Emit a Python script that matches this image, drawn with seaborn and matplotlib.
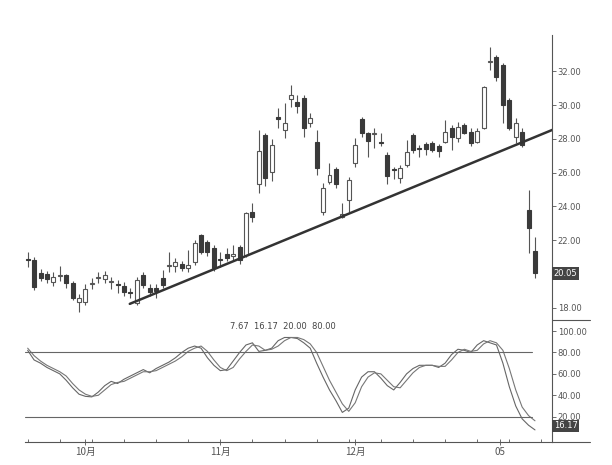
import numpy as np
import pandas as pd
import seaborn as sns
import matplotlib
matplotlib.use('Agg')
from matplotlib import pyplot as plt
from matplotlib.ticker import MultipleLocator

# daily candles
opens = [20.90, 20.84, 20.07, 19.98, 19.55, 19.90, 19.95, 19.48, 18.36, 18.36,
         19.42, 19.75, 19.72, 19.55, 19.40, 19.30, 18.92, 18.30, 19.95, 19.20,
         19.20, 19.78, 20.50, 20.50, 20.60, 20.35, 20.70, 22.30, 21.90, 21.55,
         20.90, 21.20, 21.10, 21.60, 21.15, 23.65, 25.30, 28.20, 26.05, 29.30,
         28.50, 30.35, 30.20, 30.40, 28.95, 27.80, 23.68, 25.45, 26.20, 23.35,
         24.40, 26.60, 29.20, 28.35, 28.30, 27.80, 27.05, 26.20, 25.70, 26.46,
         28.24, 27.45, 27.70, 27.75, 27.60, 27.80, 28.65, 28.06, 28.80, 28.40,
         27.80, 28.65, 32.56, 32.85, 32.38, 30.30, 28.10, 28.40, 23.80, 21.37]
highs = [21.31, 21.00, 20.30, 20.20, 20.10, 20.50, 20.00, 19.60, 18.80, 19.40,
         19.75, 20.10, 20.20, 19.80, 19.65, 19.55, 19.20, 19.80, 20.15, 19.40,
         19.40, 20.25, 21.30, 20.95, 20.75, 21.40, 22.00, 22.40, 22.00, 21.70,
         21.30, 21.55, 21.70, 21.75, 23.70, 24.20, 28.50, 28.35, 28.00, 29.85,
         30.10, 31.20, 30.60, 30.60, 29.50, 28.50, 25.40, 26.55, 26.35, 24.20,
         25.75, 28.05, 29.30, 28.40, 28.65, 28.35, 27.20, 26.35, 26.45, 27.94,
         28.35, 27.65, 27.82, 27.90, 27.70, 29.10, 28.80, 29.00, 28.95, 28.65,
         28.65, 31.15, 33.45, 32.95, 32.50, 30.40, 29.25, 28.65, 24.98, 22.20]
lows = [20.43, 19.06, 19.60, 19.50, 19.30, 19.60, 19.20, 18.45, 17.76, 18.20,
        19.10, 19.50, 19.50, 19.10, 18.90, 18.70, 18.60, 18.20, 19.20, 18.70,
        18.60, 19.20, 20.10, 20.15, 20.20, 20.15, 20.55, 21.20, 21.10, 20.20,
        20.40, 20.80, 20.85, 20.60, 21.00, 23.10, 24.80, 25.20, 25.50, 28.65,
        28.05, 29.90, 29.55, 28.10, 28.70, 25.85, 23.50, 25.30, 25.10, 23.30,
        23.70, 26.35, 28.10, 26.95, 27.45, 27.60, 25.30, 25.60, 25.40, 26.35,
        27.17, 26.95, 27.05, 27.20, 26.90, 27.75, 27.35, 27.80, 28.30, 27.60,
        27.75, 28.60, 32.10, 31.40, 28.95, 28.50, 27.76, 27.50, 21.25, 19.78]
closes = [20.85, 19.24, 19.78, 19.72, 19.83, 19.95, 19.48, 18.59, 18.59, 19.10,
          19.48, 19.80, 19.95, 19.60, 19.36, 18.95, 18.86, 19.66, 19.36, 18.95,
          19.00, 19.36, 20.55, 20.70, 20.35, 20.55, 21.85, 21.30, 21.30, 20.38,
          20.85, 20.95, 21.15, 20.84, 23.60, 23.35, 27.30, 25.70, 27.65, 29.20,
          28.95, 30.60, 29.95, 28.65, 29.22, 26.28, 25.10, 25.85, 25.35, 23.55,
          25.55, 27.65, 28.35, 27.88, 28.35, 27.78, 25.80, 26.15, 26.28, 27.20,
          27.35, 27.42, 27.42, 27.35, 27.30, 28.40, 28.10, 28.70, 28.36, 27.76,
          28.47, 31.08, 32.60, 31.67, 30.00, 28.65, 28.95, 27.65, 22.73, 20.05]

# stochastic %K / %D
stoch_k = [82, 73, 70, 66, 63, 60, 54, 47, 41, 39,
           38.5, 43, 49, 53, 51, 55, 58, 61, 64, 61,
           65, 68, 71, 75, 80, 84, 86, 84, 75, 68,
           63, 64, 72, 80, 87, 89, 81, 82, 84, 91,
           94, 94, 93, 89, 84, 70, 57, 45, 35, 24,
           28, 45, 57, 62, 62, 56, 49, 45, 52, 60,
           65, 68, 68, 68, 66, 70, 78, 83, 82, 80,
           87, 91, 89, 87, 70, 48, 30, 18, 12, 7.67]
stoch_d = [84, 77, 72, 68, 65, 62, 58, 51, 45, 41,
           39, 40, 45, 50, 52, 53, 56, 59, 62, 62,
           63, 66, 69, 72, 76, 81, 84, 86, 81, 73,
           66, 63, 66, 74, 81, 87, 86, 82, 83, 86,
           91, 94, 94, 92, 88, 80, 67, 54, 43, 32,
           25, 33, 48, 57, 61, 60, 54, 48, 47, 54,
           61, 66, 68, 68, 67, 67, 73, 80, 83, 81,
           82, 88, 91, 89, 82, 65, 45, 29, 21, 16.17]

trend_x = [15.9, 81.7]
trend_y = [18.24, 28.53]

month_pos = [9, 30, 51, 73.5]
month_labels = ['10月', '11月', '12月', '05']
price_ticks = [18, 22, 24, 26, 28, 30, 32]
stoch_ticks = [20, 40, 60, 80, 100]
stoch_levels = [20, 80]
last_price = 20.05
last_d = 16.17

sns.set_theme(style='white')
plt.rcParams['font.family'] = ['Noto Sans CJK SC', 'DejaVu Sans']

df = pd.DataFrame({'i': np.arange(len(opens)), 'open': opens, 'high': highs,
                   'low': lows, 'close': closes, 'k': stoch_k, 'd': stoch_d})

fig = plt.figure(figsize=(6.12, 4.65), dpi=100)
ax1 = fig.add_axes([0.0408, 0.312, 0.8614, 0.613])
ax2 = fig.add_axes([0.0408, 0.050, 0.8614, 0.262])

gray = '#555555'
dark = '#3a3a3a'

# candles
ax1.vlines(df.i, df.low, df.high, color=gray, lw=0.8, zorder=2)
up = df[df.close >= df.open]
down = df[df.close < df.open]
ax1.bar(up.i, np.maximum(up.close - up.open, 0.06), bottom=up.open, width=0.62,
        color='white', edgecolor=gray, linewidth=0.8, zorder=3)
ax1.bar(down.i, np.maximum(down.open - down.close, 0.06), bottom=down.close, width=0.62,
        color=dark, edgecolor=dark, linewidth=0.8, zorder=3)
ax1.plot(trend_x, trend_y, color='#333333', lw=1.8, zorder=4)

ax1.set_xlim(-0.42, 81.67)
ax1.set_ylim(17.29, 34.15)

# oscillator
sns.lineplot(data=df, x='i', y='k', ax=ax2, color='#666666', lw=0.8)
sns.lineplot(data=df, x='i', y='d', ax=ax2, color='#777777', lw=0.8)
for lv in stoch_levels:
    ax2.plot([-0.42, 78.6], [lv, lv], color='#666666', lw=0.8)
ax2.set_xlim(-0.42, 81.67)
ax2.set_ylim(-3.4, 110.4)
ax2.set_xlabel('')
ax2.set_ylabel('')
ax2.text(0.49, 0.985, '7.67  16.17  20.00  80.00', transform=ax2.transAxes,
         ha='center', va='top', fontsize=6, color='#444444', family=['DejaVu Sans'])

for ax in (ax1, ax2):
    for s in ['top', 'left', 'bottom']:
        ax.spines[s].set_visible(False)
    ax.spines['right'].set_color(gray)
    ax.spines['right'].set_linewidth(0.8)
    ax.yaxis.tick_right()
    ax.tick_params(axis='y', which='both', right=True, direction='out', length=3,
                   width=0.6, color=gray, labelsize=6, labelcolor='#555555', pad=1)

ax1.set_yticks(price_ticks)
ax1.set_yticklabels([f'{v:.2f}' for v in price_ticks], family=['DejaVu Sans'])
ax1.set_xticks([])
ax2.set_yticks(stoch_ticks)
ax2.set_yticklabels([f'{v:.2f}' for v in stoch_ticks], family=['DejaVu Sans'])

ax2.spines['bottom'].set_visible(True)
ax2.spines['bottom'].set_color(gray)
ax2.spines['bottom'].set_linewidth(0.8)
ax2.set_xticks(month_pos)
ax2.set_xticklabels(month_labels, fontsize=7, color='#555555')
ax2.xaxis.set_minor_locator(MultipleLocator(5))
ax2.tick_params(axis='x', which='major', bottom=True, direction='inout', length=5,
                width=0.6, color=gray, pad=1)
ax2.tick_params(axis='x', which='minor', bottom=True, direction='in', length=2,
                width=0.6, color=gray)

# value boxes on the right axis
ax1.text(81.9, last_price, f'{last_price:.2f}', fontsize=6, color='white', va='center',
         ha='left', clip_on=False, zorder=6, family=['DejaVu Sans'],
         bbox=dict(boxstyle='square,pad=0.25', fc='#444444', ec='none'))
# box sits just below the 20.00 label, as in the scan
ax2.text(81.9, 11.5, f'{last_d:.2f}', fontsize=6, color='white', va='center',
         ha='left', clip_on=False, zorder=6, family=['DejaVu Sans'],
         bbox=dict(boxstyle='square,pad=0.2', fc='#444444', ec='none'))

# separator and bottom line running under the scale
fig.add_artist(plt.Line2D([0.902, 0.964], [0.312, 0.312], color=gray, lw=0.8))
fig.add_artist(plt.Line2D([0.902, 0.964], [0.050, 0.050], color=gray, lw=0.8))

fig.savefig('out.png', dpi=100, facecolor='white')
